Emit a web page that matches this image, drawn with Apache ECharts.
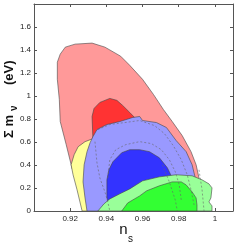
<!DOCTYPE html>
<html><head><meta charset="utf-8">
<script src="https://cdn.jsdelivr.net/npm/echarts@6/dist/echarts.min.js"></script>
<style>html,body{margin:0;padding:0;background:#fff}#c{width:242px;height:245px}</style>
</head><body><div id="c"></div>
<script>
// axis ranges / ticks
const xTicks = [0.92, 0.94, 0.96, 0.98, 1.00];
const yTicks = [0, 0.2, 0.4, 0.6, 0.8, 1.0, 1.2, 1.4, 1.6];
// light red (outer) contour
const redOuterX = [0.9321,0.9392,0.9479,0.9529,0.9600,0.9660,0.9715,0.9764,0.9819,0.9868,0.9896,0.9912,0.9912,0.9638,0.9364,0.9244,0.9211,0.9178,0.9145,0.9140,0.9129,0.9129,0.9145,0.9173,0.9227];
const redOuterY = [1.460,1.425,1.346,1.267,1.145,1.014,0.883,0.778,0.656,0.516,0.402,0.288,0.184,0.140,0.184,0.306,0.367,0.577,0.778,0.970,1.145,1.294,1.364,1.425,1.451];
// dark red (inner)
const redInnerX = [0.9321,0.9332,0.9364,0.9419,0.9458,0.9490,0.9529,0.9567,0.9595,0.9584,0.9419,0.9326];
const redInnerY = [0.822,0.892,0.944,0.979,0.962,0.918,0.857,0.795,0.726,0.664,0.664,0.612];
// yellow
const yellowX = [0.9205,0.9222,0.9244,0.9282,0.9326,0.9364,0.9364,0.9266,0.9238,0.9216];
const yellowY = [0.402,0.490,0.559,0.603,0.629,0.533,0,0,0.184,0.315];
// light blue (outer)
const blueOuterX = [0.9310,0.9326,0.9348,0.9403,0.9474,0.9545,0.9584,0.9600,0.9677,0.9732,0.9786,0.9841,0.9874,0.9890,0.9896,0.9638,0.9364,0.9293,0.9282,0.9271,0.9277,0.9293];
const blueOuterY = [0.594,0.647,0.708,0.752,0.778,0.813,0.822,0.787,0.769,0.726,0.612,0.516,0.402,0.297,0.201,0.096,0,0,0.114,0.253,0.402,0.516];
// dark blue (inner)
const blueInnerX = [0.9403,0.9403,0.9414,0.9436,0.9485,0.9529,0.9584,0.9638,0.9693,0.9737,0.9764,0.9748,0.9529,0.9408];
const blueInnerY = [0.122,0.271,0.358,0.428,0.507,0.533,0.533,0.516,0.463,0.376,0.288,0.184,0.114,0.070];
// light green (outer)
const greenOuterX = [0.9353,0.9386,0.9419,0.9474,0.9529,0.9600,0.9693,0.9786,0.9874,0.9929,0.9967,0.9984,0.9978,0.9967,0.9984,0.9984];
const greenOuterY = [0,0.061,0.105,0.149,0.192,0.262,0.297,0.315,0.306,0.271,0.236,0.201,0.114,0.079,0.044,0];
// green (inner)
const greenInnerX = [0.9485,0.9518,0.9584,0.9622,0.9693,0.9764,0.9814,0.9841,0.9874,0.9896,0.9901,0.9901];
const greenInnerY = [0,0.070,0.131,0.175,0.219,0.253,0.253,0.227,0.166,0.114,0.052,0];
// dashed contours
const dashAX = [0.9337,0.9348,0.9364,0.9392,0.9408,0.9419];
const dashAY = [0.603,0.420,0.288,0.166,0.079,0];
const dashBX = [0.9408,0.9419,0.9452,0.9507,0.9584,0.9649,0.9704,0.9748,0.9781,0.9803,0.9814];
const dashBY = [0.288,0.446,0.533,0.577,0.603,0.586,0.533,0.446,0.341,0.227,0.096];
const dashCX = [0.9353,0.9419,0.9501,0.9584,0.9666,0.9721,0.9770,0.9814,0.9847,0.9868,0.9885];
const dashCY = [0.708,0.752,0.769,0.787,0.743,0.673,0.568,0.446,0.315,0.184,0.052];
const dashDX = [0.9710,0.9748,0.9781,0.9792];
const dashDY = [0.402,0.253,0.096,0];
const dashEX = [0.9912,0.9929,0.9940];
const dashEY = [0.358,0.184,0];

function polySeries(xs, ys, fill) {
  return {
    type: 'custom', coordinateSystem: 'cartesian2d', silent: true, animation: false, clip: true,
    data: [[xs[0], ys[0]]],
    renderItem: function (params, api) {
      return { type: 'polygon',
        shape: { points: xs.map((x, i) => api.coord([x, ys[i]])) },
        style: { fill: fill, stroke: '#444', lineWidth: 0.6 } };
    }
  };
}
function dashSeries(xs, ys) {
  return {
    type: 'custom', coordinateSystem: 'cartesian2d', silent: true, animation: false, clip: true,
    data: [[xs[0], ys[0]]],
    renderItem: function (params, api) {
      return { type: 'polyline',
        shape: { points: xs.map((x, i) => api.coord([x, ys[i]])) },
        style: { fill: null, stroke: '#666', lineWidth: 0.6, lineDash: [2, 2] } };
    }
  };
}
function fmt(list) {
  return function (v) {
    const r = Math.round(v * 100) / 100;
    return list.some(t => Math.abs(t - r) < 1e-6) ? String(parseFloat(r.toFixed(2))) : '';
  };
}
const axisCommon = {
  axisLine: { show: true, onZero: false, lineStyle: { color: '#555', width: 1 } },
  axisTick: { show: true, inside: true, length: 3, lineStyle: { color: '#555' } },
  splitLine: { show: false }
};
const chart = echarts.init(document.getElementById('c'), null, { renderer: 'canvas' });
chart.setOption({
  animation: false,
  backgroundColor: '#fff',
  grid: { left: 34, right: 9, top: 4, bottom: 34 },
  xAxis: [
    Object.assign({ type: 'value', min: 0.90, max: 1.01, interval: 0.02, position: 'bottom',
      axisLabel: { formatter: fmt(xTicks), fontSize: 8, color: '#222', margin: 4, fontFamily: 'Liberation Sans' } }, axisCommon),
    Object.assign({ type: 'value', min: 0.90, max: 1.01, interval: 0.02, position: 'top',
      axisLabel: { show: false } }, axisCommon)
  ],
  yAxis: [
    Object.assign({ type: 'value', min: 0, max: 1.8, interval: 0.2, position: 'left',
      axisLabel: { formatter: fmt(yTicks), fontSize: 8, color: '#222', margin: 3, fontFamily: 'Liberation Sans' } }, axisCommon),
    Object.assign({ type: 'value', min: 0, max: 1.8, interval: 0.2, position: 'right',
      axisLabel: { show: false } }, axisCommon)
  ],
  series: [
    polySeries(redOuterX, redOuterY, '#ff9999'),
    polySeries(redInnerX, redInnerY, '#ff3333'),
    polySeries(yellowX, yellowY, '#ffff99'),
    polySeries(blueOuterX, blueOuterY, '#9999ff'),
    polySeries(blueInnerX, blueInnerY, '#3333ff'),
    polySeries(greenOuterX, greenOuterY, '#99ff99'),
    polySeries(greenInnerX, greenInnerY, '#33ff33'),
    dashSeries(dashAX, dashAY),
    dashSeries(dashBX, dashBY),
    dashSeries(dashCX, dashCY),
    dashSeries(dashDX, dashDY),
    dashSeries(dashEX, dashEY)
  ],
  graphic: [
    { type: 'group', x: 9, y: 138, rotation: Math.PI / 2, children: [
      { type: 'text', x: 0, y: 0, style: { text: 'Σ m', font: 'bold 13px "Liberation Sans"', fill: '#111', verticalAlign: 'middle', align: 'left' } },
      { type: 'text', x: 27, y: 5, style: { text: 'ν', font: 'bold 10px "Liberation Sans"', fill: '#111', verticalAlign: 'middle', align: 'left' } },
      { type: 'text', x: 53, y: 0, style: { text: '(eV)', font: 'bold 13px "Liberation Sans"', fill: '#111', verticalAlign: 'middle', align: 'left' } }
    ] },
    { type: 'text', x: 123.5, y: 230, style: { text: 'n', font: '15px "Liberation Sans"', fill: '#111', align: 'center', verticalAlign: 'middle' } },
    { type: 'text', x: 130.5, y: 239, style: { text: 's', font: '10px "Liberation Sans"', fill: '#111', align: 'center', verticalAlign: 'middle' } }
  ]
});
</script></body></html>
